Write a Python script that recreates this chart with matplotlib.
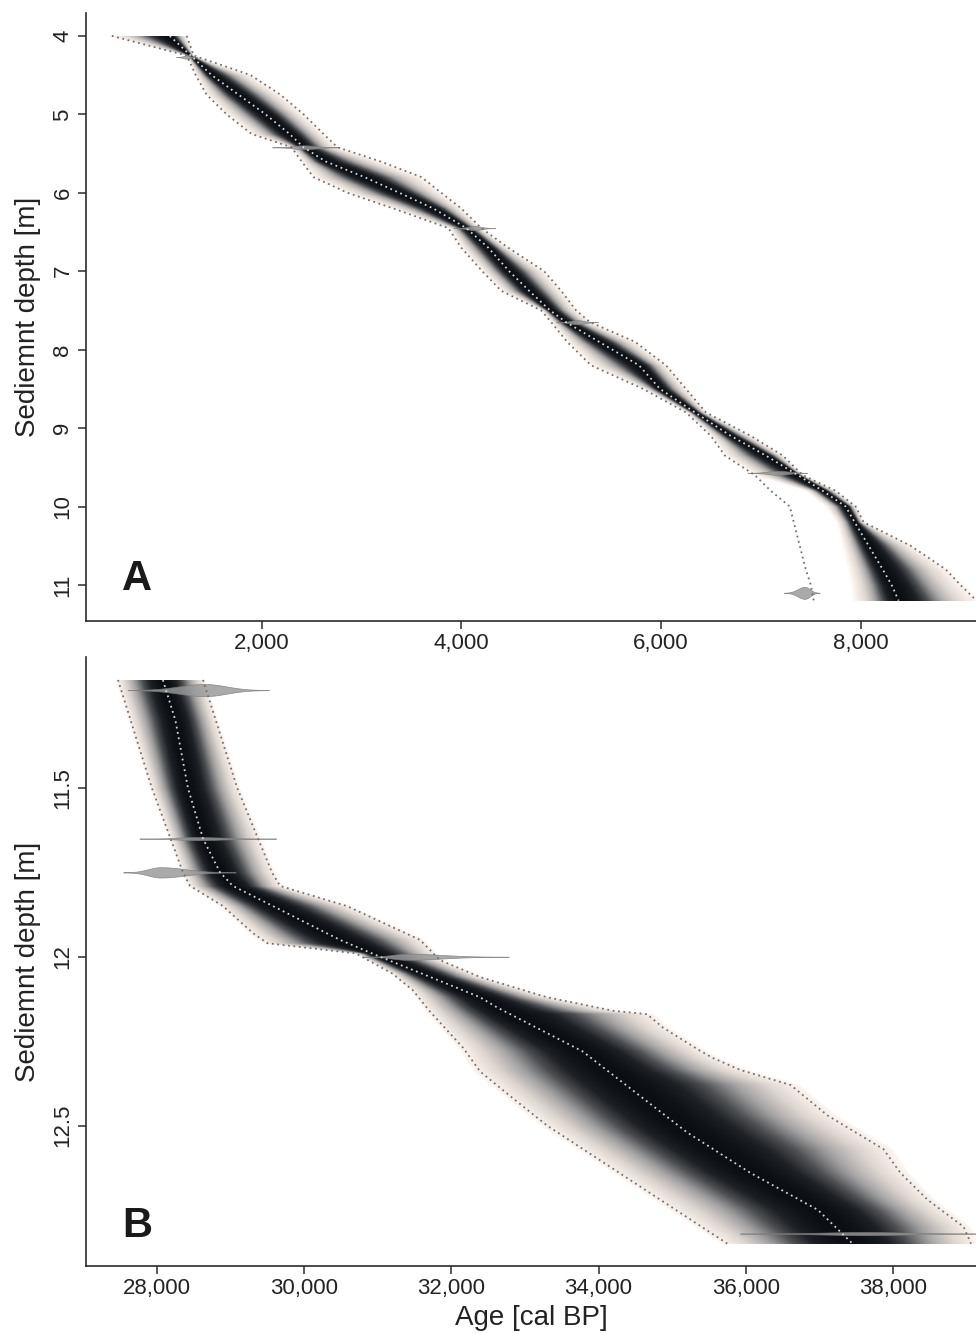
import numpy as np
import matplotlib.pyplot as plt
from matplotlib.colors import LinearSegmentedColormap
from matplotlib.ticker import FuncFormatter

plt.rcParams['font.family'] = ['Liberation Sans', 'DejaVu Sans']

# ---- panel A (4-11.2 m) ----
depth_A = [4.0, 4.25, 4.5, 4.75, 5.0, 5.25, 5.42, 5.6, 5.8, 6.0, 6.2, 6.45, 6.7, 7.0,
           7.25, 7.5, 7.65, 7.9, 8.2, 8.5, 8.8, 9.1, 9.35, 9.6, 9.8, 10.0, 10.2, 10.5,
           10.8, 11.0, 11.2]
med_A = [1080, 1290, 1500, 1770, 2040, 2280, 2420, 2640, 3030, 3380, 3720, 4050, 4270, 4480,
         4680, 4890, 5050, 5380, 5780, 5990, 6340, 6700, 7050, 7370, 7620, 7850, 7940, 8080,
         8220, 8310, 8380]
lo_A = [500, 1250, 1340, 1450, 1650, 1900, 2300, 2400, 2520, 2860, 3320, 3870, 4000, 4210,
        4400, 4800, 4900, 5060, 5300, 5820, 6250, 6500, 6640, 6940, 7100, 7290, 7330, 7390,
        7450, 7500, 7530]
hi_A = [1250, 1320, 1890, 2190, 2420, 2620, 2760, 3190, 3600, 3800, 4000, 4200, 4470, 4830,
        5000, 5150, 5290, 5740, 6050, 6250, 6450, 6900, 7220, 7420, 7750, 7950, 8030, 8500,
        8850, 9000, 9160]
band_lo_A = [500, 1250, 1340, 1450, 1650, 1900, 2300, 2400, 2520, 2860, 3320, 3870, 4000, 4210,
             4400, 4800, 4900, 5060, 5300, 5820, 6250, 6500, 6640, 6940, 7450, 7650, 7760, 7820,
             7880, 7910, 7930]

date_depth_A = [4.27, 5.42, 6.45, 7.65, 9.57, 11.1]
date_age_A = [1250, 2420, 4130, 5160, 7180, 7440]
date_sd_young_A = [36, 105, 70, 70, 105, 70]
date_sd_old_A = [36, 120, 70, 70, 95, 50]
date_prob_A = [0.25, 0.33, 0.33, 0.33, 0.33, 1.0]

# ---- panel B (11.18-12.85 m) ----
med_B_depth = [11.18, 11.3, 11.5, 11.65, 11.75, 11.79, 11.85, 11.95, 12.0, 12.05, 12.12,
               12.15, 12.28, 12.52, 12.64, 12.75, 12.85]
med_B_age = [28080, 28250, 28420, 28625, 28856, 29030, 29576, 30486, 31030, 31600, 32389,
             32620, 33780, 35200, 36060, 36980, 37450]
lo_B_depth = [11.18, 11.5, 11.75, 11.79, 11.85, 11.93, 11.96, 11.99, 12.05, 12.10, 12.16,
              12.27, 12.34, 12.42, 12.50, 12.70, 12.85]
lo_B_age = [27470, 27930, 28353, 28448, 28897, 29304, 29500, 30700, 31200, 31480, 31700,
            32160, 32390, 32840, 33300, 34700, 35750]
hi_B_depth = [11.18, 11.5, 11.75, 11.79, 11.85, 11.95, 12.01, 12.06, 12.12, 12.16, 12.17,
              12.21, 12.28, 12.30, 12.335, 12.38, 12.47, 12.57, 12.64, 12.72, 12.80, 12.85]
hi_B_age = [28625, 29090, 29562, 29671, 30582, 31573, 31845, 32389, 33299, 34196, 34658,
            34875, 35390, 35554, 35921, 36610, 37110, 37870, 38100, 38470, 38960, 39060]

date_depth_B = [11.21, 11.65, 11.75, 12.0, 12.82]
date_age_B = [28650, 28540, 28050, 31400, 37600]
date_sd_young_B = [350, 260, 170, 200, 560]
date_sd_old_B = [290, 360, 340, 460, 600]
date_prob_B = [1.0, 0.25, 0.85, 0.5, 0.25]

xticks_A = [2000, 4000, 6000, 8000]
yticks_A = [4, 5, 6, 7, 8, 9, 10, 11]
xticks_B = [28000, 30000, 32000, 34000, 36000, 38000]
yticks_B = [11.5, 12, 12.5]

cmap = LinearSegmentedColormap.from_list('bacon', [
    (0.0, '#ffffff'), (0.06, '#f8efe9'), (0.18, '#dcd5d0'), (0.38, '#a09fa0'),
    (0.6, '#4e5053'), (0.8, '#1e2125'), (1.0, '#0b0e12')])


def draw_density(ax, dm, am, dl, al, dh, ah, xlim, core):
    ages = np.linspace(xlim[0], xlim[1], 1600)
    depths = np.linspace(dm[0], dm[-1], 600)
    m = np.interp(depths, dm, am)[:, None]
    lo = np.interp(depths, dl, al)[:, None]
    hi = np.interp(depths, dh, ah)[:, None]
    a = ages[None, :]
    hw = np.where(a < m, m - lo, hi - m) * 1.05
    u = np.abs(a - m) / hw
    z = 0.75 * np.exp(-0.5 * (u / core) ** 2) + 0.25 * np.clip(1 - u ** 2, 0, 1)
    z[u > 1] = 0
    ax.imshow(z, extent=(ages[0], ages[-1], depths[-1], depths[0]), origin='upper',
              aspect='auto', cmap=cmap, vmin=0, vmax=1, interpolation='bilinear', zorder=1)


def draw_dates(ax, depth, age, sd_y, sd_o, prob, scale):
    for d, a0, sy, so, p in zip(depth, age, sd_y, sd_o, prob):
        a = np.linspace(a0 - 3 * sy, a0 + 3 * so, 300)
        s = np.where(a < a0, sy, so)
        h = p * scale * np.exp(-0.5 * ((a - a0) / s) ** 2)
        ax.fill_between(a, d - h, d + h, facecolor='#999999', alpha=0.83,
                        edgecolor='#7a7a7a', lw=0.5, zorder=4)


def style_axes(ax, xlim, ylim, xticks, yticks, yfmt):
    ax.set_xlim(xlim)
    ax.set_ylim(ylim)
    for s in ['top', 'right']:
        ax.spines[s].set_visible(False)
    for s in ['left', 'bottom']:
        ax.spines[s].set_color('#2b2b2b')
        ax.spines[s].set_linewidth(1.2)
    ax.set_xticks(xticks)
    ax.set_yticks(yticks)
    ax.xaxis.set_major_formatter(FuncFormatter(lambda v, p: f'{v:,.0f}'))
    ax.yaxis.set_major_formatter(FuncFormatter(yfmt))
    ax.tick_params(axis='both', length=6, width=1.1, color='#2b2b2b',
                   labelsize=16, labelcolor='#222222')
    ax.tick_params(axis='x', pad=2.5)
    ax.tick_params(axis='y', pad=3, labelrotation=90)
    for lab in ax.get_yticklabels():
        lab.set_va('center')
    ax.set_xlabel('Age [cal BP]', fontsize=20, color='#222222')
    ax.set_ylabel('Sediemnt depth [m]', fontsize=20, color='#222222')
    ax.xaxis.set_label_coords(0.5, -0.064)
    ax.yaxis.set_label_coords(-0.0506, 0.5)


fig = plt.figure(figsize=(9.76, 13.34), dpi=100)
axA = fig.add_axes([0.0881, 0.5345, 0.9119, 0.4558])
axB = fig.add_axes([0.0881, 0.0510, 0.9119, 0.4565])

xlim_A = (241, 9155)
xlim_B = (27035, 39128)
dots = (0, (1, 2))

# panel A
draw_density(axA, depth_A, med_A, depth_A, band_lo_A, depth_A, hi_A, xlim_A, 0.3)
draw_dates(axA, date_depth_A, date_age_A, date_sd_young_A, date_sd_old_A, date_prob_A, 0.077)
axA.plot(lo_A, depth_A, color='#707070', lw=1.3, ls=dots, zorder=5)
axA.plot(hi_A, depth_A, color='#707070', lw=1.3, ls=dots, zorder=5)
axA.plot(med_A, depth_A, color='#d6d6d6', lw=1.3, ls=dots, zorder=5)
style_axes(axA, xlim_A, (11.459, 3.707), xticks_A, yticks_A, lambda v, p: f'{v:g}')
axA.text(0.0404, 0.051, 'A', transform=axA.transAxes, fontsize=30, fontweight='bold',
         ha='left', va='baseline', color='#1a1a1a')

# panel B
draw_density(axB, med_B_depth, med_B_age, lo_B_depth, lo_B_age, hi_B_depth, hi_B_age,
             xlim_B, 0.4)
draw_dates(axB, date_depth_B, date_age_B, date_sd_young_B, date_sd_old_B, date_prob_B, 0.018)
axB.plot(lo_B_age, lo_B_depth, color='#707070', lw=1.3, ls=dots, zorder=5)
axB.plot(hi_B_age, hi_B_depth, color='#707070', lw=1.3, ls=dots, zorder=5)
axB.plot(med_B_age, med_B_depth, color='#d6d6d6', lw=1.3, ls=dots, zorder=5)
style_axes(axB, xlim_B, (12.916, 11.112), xticks_B, yticks_B, lambda v, p: f'{v:g}')
axB.text(0.0404, 0.0476, 'B', transform=axB.transAxes, fontsize=30, fontweight='bold',
         ha='left', va='baseline', color='#1a1a1a')

fig.savefig('out.png', dpi=100, facecolor='white')
